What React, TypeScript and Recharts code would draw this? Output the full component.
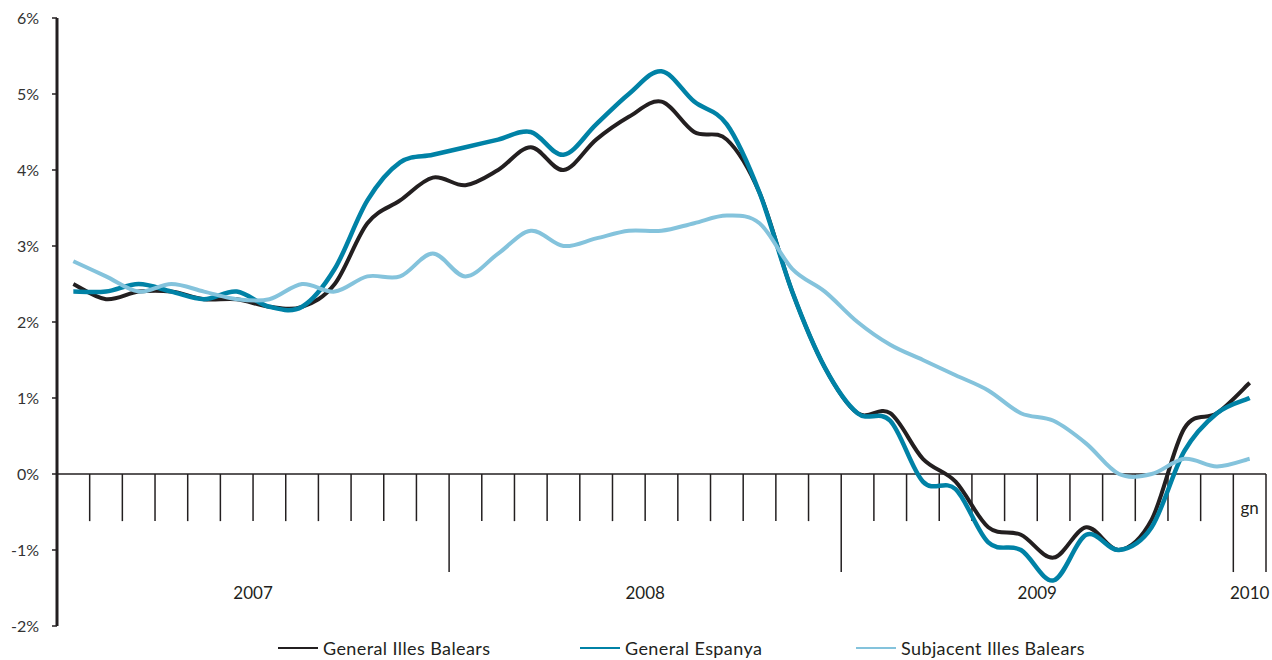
import {
  LineChart,
  Line,
  XAxis,
  YAxis,
  ReferenceLine,
  ReferenceDot,
  Legend,
} from 'recharts'

// Taxa de variació interanual de l'IPC, gener 2007 - gener 2010
const monthNames = ['gn', 'fb', 'mç', 'ab', 'mg', 'jn', 'jl', 'ag', 'st', 'oc', 'nv', 'ds']
const years = [2007, 2008, 2009, 2010]

const generalBalears = [
  2.5, 2.3, 2.4, 2.4, 2.3, 2.3, 2.2, 2.2, 2.5, 3.3, 3.6, 3.9,
  3.8, 4.0, 4.3, 4.0, 4.4, 4.7, 4.9, 4.5, 4.4, 3.7, 2.4, 1.4,
  0.8, 0.8, 0.2, -0.1, -0.7, -0.8, -1.1, -0.7, -1.0, -0.6, 0.6, 0.8,
  1.2,
]
const generalEspanya = [
  2.4, 2.4, 2.5, 2.4, 2.3, 2.4, 2.2, 2.2, 2.7, 3.6, 4.1, 4.2,
  4.3, 4.4, 4.5, 4.2, 4.6, 5.0, 5.3, 4.9, 4.6, 3.7, 2.4, 1.4,
  0.8, 0.7, -0.1, -0.2, -0.9, -1.0, -1.4, -0.8, -1.0, -0.7, 0.3, 0.8,
  1.0,
]
const subjacentBalears = [
  2.8, 2.6, 2.4, 2.5, 2.4, 2.3, 2.3, 2.5, 2.4, 2.6, 2.6, 2.9,
  2.6, 2.9, 3.2, 3.0, 3.1, 3.2, 3.2, 3.3, 3.4, 3.3, 2.7, 2.4,
  2.0, 1.7, 1.5, 1.3, 1.1, 0.8, 0.7, 0.4, 0.0, 0.0, 0.2, 0.1,
  0.2,
]

const yTicks = [-2, -1, 0, 1, 2, 3, 4, 5, 6]
const yearLabels = ['2007', '2008', '2009', '2010']
const lastMonthLabel = 'gn'

const TEXT = '#231f20'
const FONT = 'Lato, "Open Sans", sans-serif'

const SERIES = [
  { key: 'balears', name: 'General Illes Balears', color: '#231f20', width: 4 },
  { key: 'espanya', name: 'General Espanya', color: '#0082a6', width: 4.5 },
  { key: 'subjacent', name: 'Subjacent Illes Balears', color: '#84c3dc', width: 4 },
]

// month labels (gn 2007 ... gn 2010)
const months: string[] = []
years.forEach((y) => {
  monthNames.forEach((m) => {
    if (y < 2010 || m === 'gn') months.push(`${m} ${y}`)
  })
})

// each month sits in the middle of its band, boundaries at integers
const data = months.map((label, i) => ({
  label,
  pos: i + 0.5,
  balears: generalBalears[i],
  espanya: generalEspanya[i],
  subjacent: subjacentBalears[i],
}))

const n = months.length
const boundaries = Array.from({ length: n }, (_, i) => i + 1)
const isLong = (b: number) => b % 12 === 0 || b === n

// year label positions: centre of each year's span
const yearPositions = yearLabels.map((_, i) => {
  const start = i * 12
  const end = Math.min(start + 12, n)
  return (start + end) / 2
})

// Catmull-Rom style smoothing (like the spreadsheet "smoothed line")
function smoothCurve(context: any) {
  let pts: [number, number][] = []
  return {
    areaStart() {},
    areaEnd() {},
    lineStart() {
      pts = []
    },
    point(x: number, y: number) {
      pts.push([+x, +y])
    },
    lineEnd() {
      if (!pts.length) return
      context.moveTo(pts[0][0], pts[0][1])
      for (let i = 0; i < pts.length - 1; i++) {
        const p0 = pts[Math.max(i - 1, 0)]
        const p1 = pts[i]
        const p2 = pts[i + 1]
        const p3 = pts[Math.min(i + 2, pts.length - 1)]
        context.bezierCurveTo(
          p1[0] + (p2[0] - p0[0]) / 6,
          p1[1] + (p2[1] - p0[1]) / 6,
          p2[0] - (p3[0] - p1[0]) / 6,
          p2[1] - (p3[1] - p1[1]) / 6,
          p2[0],
          p2[1],
        )
      }
    },
  }
}

function YearTick(props: any) {
  const { x, y, payload } = props
  const idx = yearPositions.indexOf(payload.value)
  return (
    <text
      x={x}
      y={y - 34}
      textAnchor="middle"
      dominantBaseline="central"
      fill={TEXT}
      fontSize={17}
      fontFamily={FONT}
    >
      {yearLabels[idx]}
    </text>
  )
}

function LegendContent() {
  const widths = [302, 276, 280]
  return (
    <div style={{ display: 'flex', fontFamily: FONT, fontSize: 18, letterSpacing: 0.4, color: TEXT }}>
      {SERIES.map((s, i) => (
        <div key={s.key} style={{ width: widths[i], display: 'flex', alignItems: 'center' }}>
          <span
            style={{
              display: 'inline-block',
              width: 40,
              height: 2.5,
              background: s.color,
              marginRight: 5,
            }}
          />
          <span>{s.name}</span>
        </div>
      ))}
    </div>
  )
}

export default function App() {
  return (
    <div style={{ position: 'absolute', left: 0, top: 0, background: '#fff' }}>
      <LineChart
        width={1272}
        height={660}
        data={data}
        margin={{ top: 18, right: 6, left: 0, bottom: 0 }}
      >
        <XAxis
          type="number"
          dataKey="pos"
          domain={[0, n]}
          ticks={yearPositions}
          tick={<YearTick />}
          axisLine={false}
          tickLine={false}
          tickSize={0}
          tickMargin={0}
          height={34}
          interval={0}
        />
        <YAxis
          type="number"
          domain={[-2, 6]}
          ticks={yTicks}
          interval={0}
          width={57}
          tickFormatter={(v: number) => `${v}%`}
          axisLine={{ stroke: TEXT, strokeWidth: 3 }}
          tickLine={{ stroke: TEXT, strokeWidth: 1.5 }}
          tickSize={5}
          tickMargin={13}
          tick={{ fill: '#333', fontSize: 16, fontFamily: FONT }}
        />
        <ReferenceLine y={0} stroke={TEXT} strokeWidth={1.5} />
        {boundaries.map((b) => (
          <ReferenceLine
            key={b}
            segment={[
              { x: b, y: 0 },
              { x: b, y: isLong(b) ? -1.29 : -0.62 },
            ]}
            stroke={TEXT}
            strokeWidth={1.5}
          />
        ))}
        <ReferenceDot
          x={n - 0.5}
          y={-0.45}
          r={0}
          fill="none"
          stroke="none"
          label={{ value: lastMonthLabel, position: 'center', fill: TEXT, fontSize: 17, fontFamily: FONT }}
        />
        {SERIES.map((s) => (
          <Line
            key={s.key}
            type={smoothCurve as any}
            dataKey={s.key}
            name={s.name}
            stroke={s.color}
            strokeWidth={s.width}
            strokeLinejoin="round"
            dot={false}
            activeDot={false}
            isAnimationActive={false}
          />
        ))}
        <Legend
          content={<LegendContent />}
          layout="horizontal"
          verticalAlign="middle"
          align="center"
          wrapperStyle={{ position: 'absolute', left: 278, top: 637, width: 900 }}
        />
      </LineChart>
    </div>
  )
}
